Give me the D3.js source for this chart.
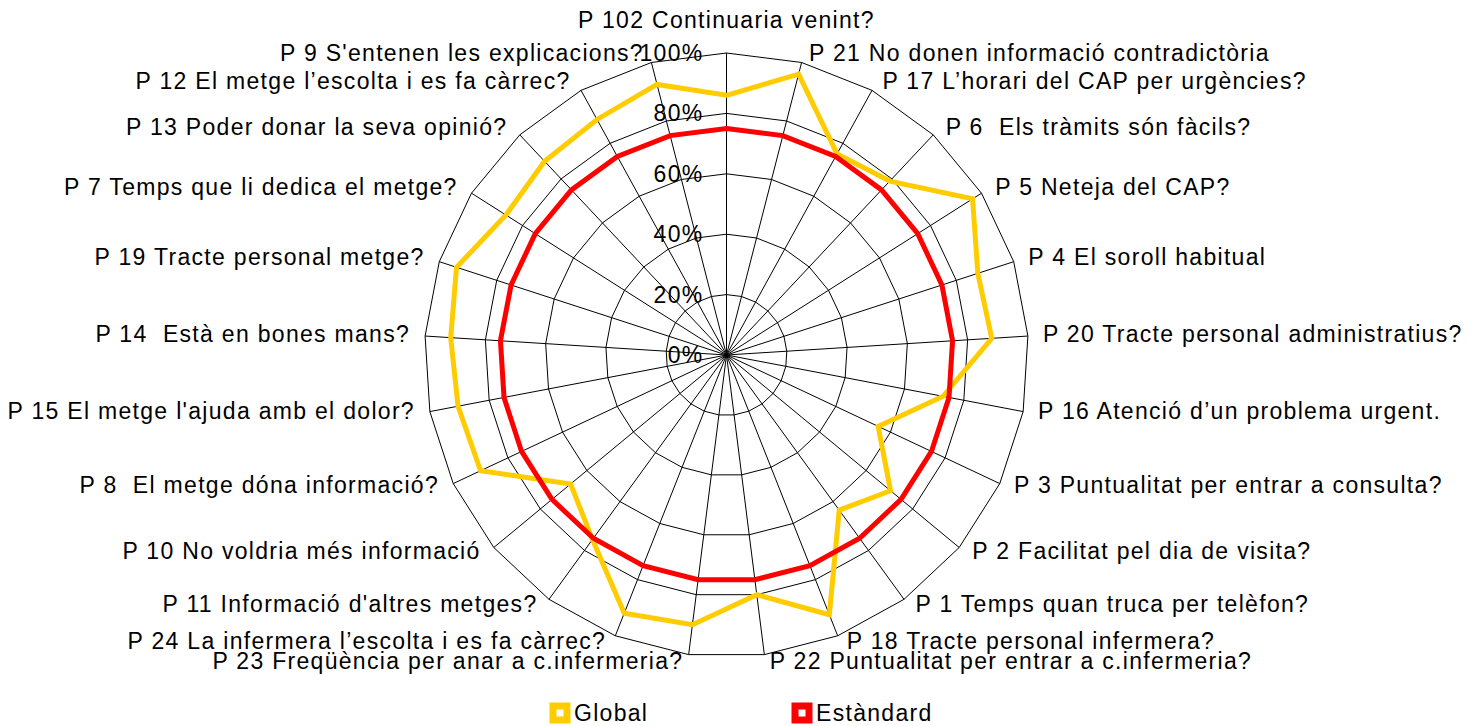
<!DOCTYPE html>
<html>
<head>
<meta charset="utf-8">
<script src="https://cdn.jsdelivr.net/npm/d3@7"></script>
<style>
  body { margin: 0; background: #fff; }
  text { font-family: "Liberation Sans", Arial, sans-serif; font-size: 23px; letter-spacing: 1.3px; fill: #000; white-space: pre; }
</style>
</head>
<body>
<div id="chart"></div>
<script>
// categories, clockwise from the top
const categories = [
    "P 102 Continuaria venint?",
    "P 21 No donen informació contradictòria",
    "P 17 L\u2019horari del CAP per urgències?",
    "P 6  Els tràmits són fàcils?",
    "P 5 Neteja del CAP?",
    "P 4 El soroll habitual",
    "P 20 Tracte personal administratius?",
    "P 16 Atenció d\u2019un problema urgent.",
    "P 3 Puntualitat per entrar a consulta?",
    "P 2 Facilitat pel dia de visita?",
    "P 1 Temps quan truca per telèfon?",
    "P 18 Tracte personal infermera?",
    "P 22 Puntualitat per entrar a c.infermeria?",
    "P 23 Freqüència per anar a c.infermeria?",
    "P 24 La infermera l\u2019escolta i es fa càrrec?",
    "P 11 Informació d'altres metges?",
    "P 10 No voldria més informació",
    "P 8  El metge dóna informació?",
    "P 15 El metge l'ajuda amb el dolor?",
    "P 14  Està en bones mans?",
    "P 19 Tracte personal metge?",
    "P 7 Temps que li dedica el metge?",
    "P 13 Poder donar la seva opinió?",
    "P 12 El metge l\u2019escolta i es fa càrrec?",
    "P 9 S'entenen les explicacions?"
];

const globalValues = [86, 96, 76, 79, 96.5, 87.5, 88, 73, 55.5, 70.5, 63.5, 92.5, 80,
    90, 92, 75.5, 67, 90, 90.5, 91.5, 94, 86.5, 88, 89, 92.5];

const standardValues = [75, 75, 75, 75, 75, 75, 75, 75, 75, 75, 75, 75, 75,
    75, 75, 75, 75, 75, 75, 75, 75, 75, 75, 75, 75];

const tickValues = [0, 20, 40, 60, 80, 100];
const tickLabels = ["0%", "20%", "40%", "60%", "80%", "100%"];

const seriesNames = ["Global", "Estàndard"];
const seriesColors = ["#FFCC00", "#FF0000"];

// layout
const width = 1477, height = 726;
const cx = 726.5, cy = 355, R = 302;

const svg = d3.select("#chart").append("svg")
    .attr("width", width)
    .attr("height", height);

const r = d3.scaleLinear().domain([0, 100]).range([0, R]);
const angle = d3.scaleLinear().domain([0, categories.length]).range([0, 2 * Math.PI]);

const pt = (i, v) => [cx + r(v) * Math.sin(angle(i)), cy - r(v) * Math.cos(angle(i))];

const g = svg.append("g");

// rings
tickValues.filter(d => d > 0).forEach(t => {
    g.append("polygon")
        .attr("points", categories.map((c, i) => pt(i, t).join(",")).join(" "))
        .attr("fill", "none")
        .attr("stroke", "#000")
        .attr("stroke-width", 1);
});

// spokes
g.selectAll("line.spoke").data(categories).join("line")
    .attr("class", "spoke")
    .attr("x1", cx).attr("y1", cy)
    .attr("x2", (d, i) => pt(i, 100)[0])
    .attr("y2", (d, i) => pt(i, 100)[1])
    .attr("stroke", "#000")
    .attr("stroke-width", 1);

// series lines
const line = d3.line().curve(d3.curveLinearClosed);
[globalValues, standardValues].forEach((vals, k) => {
    g.append("path")
        .attr("d", line(vals.map((v, i) => pt(i, v))))
        .attr("fill", "none")
        .attr("stroke", seriesColors[k])
        .attr("stroke-width", 5)
        .attr("stroke-linejoin", "miter");
});

// percent tick labels
g.selectAll("text.tick").data(tickValues).join("text")
    .attr("class", "tick")
    .attr("x", cx - 23)
    .attr("y", d => cy - r(d))
    .attr("dy", "0.35em")
    .attr("text-anchor", "end")
    .text((d, i) => tickLabels[i]);

// category labels
g.selectAll("text.cat").data(categories).join("text")
    .attr("class", "cat")
    .each(function (d, i) {
        const a = angle(i);
        const s = Math.sin(a), c = Math.cos(a);
        const [ex, ey] = pt(i, 100);
        const t = d3.select(this);
        if (Math.abs(s) < 0.01) {
            t.attr("x", cx).attr("y", ey - 33).attr("text-anchor", "middle");
        } else {
            t.attr("x", ex + Math.sign(s) * 15 * Math.sqrt(Math.abs(s)))
                .attr("y", ey - 8 * c - 2)
                .attr("text-anchor", s > 0 ? "start" : "end");
        }
        t.attr("dy", "0.35em").text(d);
    });

// legend
const legendX = [560, 802];
const legend = svg.selectAll("g.legend").data(seriesNames).join("g")
    .attr("class", "legend")
    .attr("transform", (d, i) => `translate(${legendX[i]},713)`);

legend.append("rect")
    .attr("x", -7).attr("y", -7)
    .attr("width", 14).attr("height", 14)
    .attr("fill", "#fff")
    .attr("stroke", (d, i) => seriesColors[i])
    .attr("stroke-width", 7);

legend.append("text")
    .attr("x", 14)
    .attr("dy", "0.35em")
    .text(d => d);
</script>
</body>
</html>
